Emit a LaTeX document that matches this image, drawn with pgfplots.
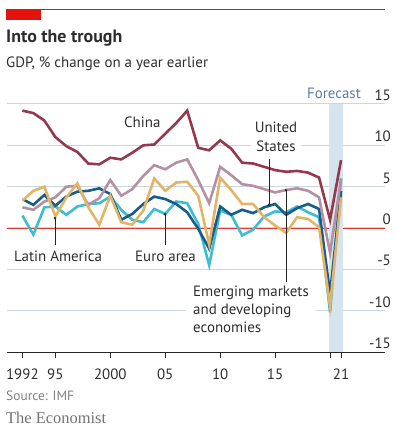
\documentclass[border=0pt]{standalone}
\usepackage{pgfplots}
\pgfplotsset{compat=1.18}
\usepackage{fontspec}
\setmainfont{PT Sans}
\newfontfamily\econserif{Liberation Serif}
\usetikzlibrary{arrows.meta}
\definecolor{chinac}{RGB}{148,56,78}
\definecolor{emdec}{RGB}{180,144,163}
\definecolor{usc}{RGB}{24,92,138}
\definecolor{euroc}{RGB}{62,188,210}
\definecolor{latamc}{RGB}{227,180,104}
\definecolor{gridc}{RGB}{205,214,222}
\definecolor{bandc}{RGB}{213,228,238}
\definecolor{econred}{RGB}{227,18,11}
\definecolor{textc}{RGB}{45,45,45}
\definecolor{fcc}{RGB}{95,125,155}
\begin{document}
\begin{tikzpicture}
\path[use as bounding box] (0bp,0bp) rectangle (396bp,429bp);
\fill[econred] (6bp,409bp) rectangle (41bp,419.7bp);
\draw[econred, line width=0.7bp] (6bp,419.4bp) -- (385bp,419.4bp);
\node[anchor=base west, inner sep=0pt, text=textc, font=\fontsize{18}{20}\selectfont\bfseries] at (6bp,386bp) {Into the trough};
\node[anchor=base west, inner sep=0pt, text=textc, font=\fontsize{15}{18}\selectfont] at (6bp,361.5bp) {GDP, \% change on a year earlier};
\begin{axis}[
  at={(7bp,77bp)}, anchor=south west, scale only axis,
  width=378bp, height=248bp,
  xmin=1990.6, xmax=2025, ymin=-15, ymax=15,
  axis x line*=bottom, axis y line*=right,
  y axis line style={draw=none},
  x axis line style={draw=black!85, line width=0.8bp, -},
  xtick={1992,1995,2000,2005,2010,2015,2020,2021},
  xticklabels={1992,95,2000,05,10,15,,21},
  ytick={-15,-10,-5,0,5,10,15},
  yticklabels={-15,-10,-5,0,5,10,15},
  tick align=outside, major tick length=6bp,
  xtick style={draw=black!85, line width=0.8bp},
  ytick style={draw=none},
  ymajorgrids, grid style={draw=gridc, line width=1bp},
  yticklabel style={anchor=south east, inner sep=0pt, yshift=3bp, font=\fontsize{15}{15}\selectfont, text=textc},
  xticklabel style={anchor=north, inner sep=0pt, yshift=-11bp, font=\fontsize{15}{15}\selectfont, text=textc},
  clip=false,
]
\addplot[econred!85, line width=0.6bp, forget plot] coordinates {(1990.6,0) (2025,0)};
\addplot[fill=bandc, draw=none, forget plot] coordinates {(2019.9,-15) (2021.2,-15) (2021.2,15) (2019.9,15)} -- cycle;
% Euro area
\addplot[euroc, line width=2.6bp] coordinates {
(1992,1.5)(1993,-0.8)(1994,2.5)(1995,2.6)(1996,1.6)(1997,2.6)(1998,2.9)(1999,3.0)(2000,3.8)(2001,2.2)(2002,1.0)(2003,0.7)(2004,2.3)(2005,1.7)(2006,3.2)(2007,3.0)(2008,0.5)(2009,-4.5)(2010,2.1)(2011,1.6)(2012,-0.9)(2013,-0.2)(2014,1.4)(2015,2.0)(2016,1.9)(2017,2.6)(2018,1.9)(2019,1.3)(2020,-10.2)(2021,6.0)};
% United States
\addplot[usc, line width=2.6bp] coordinates {
(1992,3.5)(1993,2.8)(1994,4.0)(1995,2.7)(1996,3.8)(1997,4.4)(1998,4.5)(1999,4.8)(2000,4.1)(2001,1.0)(2002,1.7)(2003,2.9)(2004,3.8)(2005,3.5)(2006,2.9)(2007,1.9)(2008,-0.1)(2009,-2.5)(2010,2.6)(2011,1.6)(2012,2.2)(2013,1.8)(2014,2.5)(2015,2.9)(2016,1.6)(2017,2.4)(2018,2.9)(2019,2.3)(2020,-8.0)(2021,4.5)};
% Emerging markets
\addplot[emdec, line width=2.6bp] coordinates {
(1992,2.5)(1993,2.2)(1994,3.2)(1995,3.7)(1996,5.0)(1997,5.1)(1998,2.8)(1999,3.6)(2000,5.8)(2001,3.9)(2002,4.7)(2003,6.3)(2004,7.6)(2005,7.1)(2006,7.9)(2007,8.3)(2008,5.8)(2009,3.0)(2010,7.4)(2011,6.4)(2012,5.3)(2013,5.1)(2014,4.7)(2015,4.3)(2016,4.6)(2017,4.8)(2018,4.5)(2019,3.7)(2020,-3.0)(2021,5.9)};
% Latin America
\addplot[latamc, line width=2.6bp] coordinates {
(1992,3.3)(1993,4.5)(1994,5.0)(1995,1.4)(1996,3.7)(1997,5.4)(1998,2.5)(1999,0.4)(2000,3.9)(2001,0.7)(2002,0.4)(2003,2.1)(2004,6.0)(2005,4.5)(2006,5.5)(2007,5.6)(2008,3.9)(2009,-2.0)(2010,6.1)(2011,4.6)(2012,2.9)(2013,2.9)(2014,1.3)(2015,0.3)(2016,-0.6)(2017,1.3)(2018,1.1)(2019,0.1)(2020,-9.4)(2021,3.7)};
% China
\addplot[chinac, line width=2.6bp] coordinates {
(1992,14.2)(1993,13.9)(1994,13.0)(1995,11.0)(1996,9.9)(1997,9.2)(1998,7.8)(1999,7.7)(2000,8.5)(2001,8.3)(2002,9.1)(2003,10.0)(2004,10.1)(2005,11.4)(2006,12.7)(2007,14.2)(2008,9.7)(2009,9.4)(2010,10.6)(2011,9.6)(2012,7.9)(2013,7.8)(2014,7.4)(2015,7.0)(2016,6.8)(2017,6.9)(2018,6.7)(2019,6.1)(2020,1.0)(2021,8.2)};
\end{axis}
% annotations
\node[anchor=base east, inner sep=0pt, text=fcc, font=\fontsize{15}{15}\selectfont] at (361bp,330.7bp) {Forecast};
\node[anchor=base west, inner sep=0pt, text=textc, font=\fontsize{15}{15}\selectfont] at (124bp,301.3bp) {China};
\node[anchor=north, align=center, fill=white, inner xsep=4bp, inner ysep=1bp, text=textc, font=\fontsize{15}{18.5}\selectfont] at (276bp,308bp) {United\\States};
\draw[black!85, line width=0.6bp, {Circle[length=2.5bp]}-] (269bp,223bp) -- (269bp,270bp);
\node[anchor=base west, inner sep=0pt, text=textc, font=\fontsize{15}{15}\selectfont] at (14bp,167.3bp) {Latin America};
\draw[black!85, line width=0.6bp, {Circle[length=2.5bp]}-] (55bp,212bp) -- (55bp,184bp);
\node[anchor=base west, inner sep=0pt, text=textc, font=\fontsize{15}{15}\selectfont] at (135bp,167.3bp) {Euro area};
\draw[black!85, line width=0.6bp, {Circle[length=2.5bp]}-] (165bp,216bp) -- (165bp,184bp);
\node[anchor=north west, align=left, fill=white, inner xsep=7bp, inner ysep=2bp, text=textc, font=\fontsize{15}{18}\selectfont] at (186bp,145bp) {Emerging markets\\and developing\\economies};
\draw[black!85, line width=0.6bp, {Circle[length=2.5bp]}-] (286bp,240bp) -- (286bp,147bp);
\node[anchor=base west, inner sep=0pt, text=black!50, font=\fontsize{13.5}{13.5}\selectfont] at (6bp,29bp) {Source: IMF};
\node[anchor=base west, inner sep=0pt, text=black!55, font=\fontsize{16.5}{16.5}\econserif] at (6bp,6bp) {The Economist};
\end{tikzpicture}
\end{document}
